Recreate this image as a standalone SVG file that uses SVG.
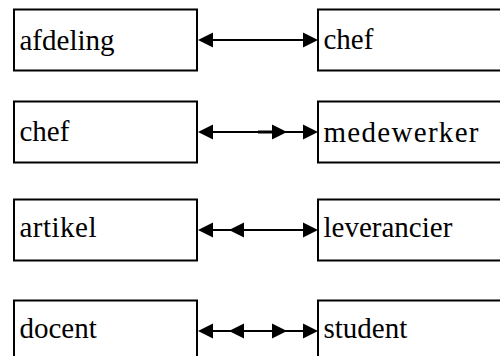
<svg xmlns="http://www.w3.org/2000/svg" xmlns:xlink="http://www.w3.org/1999/xlink" width="500" height="356" viewBox="0 0 500 356">
<style>
.box{fill:#fff;stroke:#000;stroke-width:2}
.lbl{font-family:'Liberation Serif',serif;font-size:29px;fill:#000}
.ln{stroke:#000;stroke-width:2;fill:none}
.ah{fill:#000}
</style>
<defs>
<polygon id="ar" class="ah" points="0,0 -15,-7.5 -15,7.5"/>
<polygon id="al" class="ah" points="0,0 15,-7.5 15,7.5"/>
</defs>
<rect width="500" height="356" fill="#fff"/>
<g id="n-afdeling"><rect class="box" x="14" y="9.5" width="183" height="61"/><text class="lbl" x="19.5" y="49.5">afdeling</text></g>
<g id="n-chef1"><rect class="box" x="318" y="9.5" width="186" height="61"/><text class="lbl" x="323.5" y="48.5">chef</text></g>
<g id="n-chef2"><rect class="box" x="14" y="101.5" width="183" height="61"/><text class="lbl" x="19.5" y="140.5">chef</text></g>
<g id="n-medewerker"><rect class="box" x="318" y="101.5" width="186" height="61"/><text class="lbl" x="323.5" y="141.5" textLength="155" lengthAdjust="spacing">medewerker</text></g>
<g id="n-artikel"><rect class="box" x="14" y="199.5" width="183" height="61"/><text class="lbl" x="19.5" y="236.5" textLength="77" lengthAdjust="spacing">artikel</text></g>
<g id="n-leverancier"><rect class="box" x="318" y="199.5" width="186" height="61"/><text class="lbl" x="323.5" y="236.5">leverancier</text></g>
<g id="n-docent"><rect class="box" x="14" y="300.5" width="183" height="61"/><text class="lbl" x="19.5" y="338">docent</text></g>
<g id="n-student"><rect class="box" x="318" y="300.5" width="186" height="61"/><text class="lbl" x="323.5" y="337.5">student</text></g>
<g id="connectors">
<line class="ln" x1="205" y1="40" x2="310" y2="40"/>
<use xlink:href="#al" x="198" y="40"/><use xlink:href="#ar" x="318" y="40"/>
<line class="ln" x1="205" y1="132" x2="310" y2="132"/>
<line stroke="#000" stroke-width="3" x1="258" y1="132" x2="274" y2="132"/>
<use xlink:href="#al" x="198" y="132"/><use xlink:href="#ar" x="287" y="132"/><use xlink:href="#ar" x="318" y="132"/>
<line class="ln" x1="205" y1="230" x2="310" y2="230"/>
<use xlink:href="#al" x="198" y="230"/><use xlink:href="#al" x="229" y="230"/><use xlink:href="#ar" x="318" y="230"/>
<line class="ln" x1="205" y1="331" x2="310" y2="331"/>
<use xlink:href="#al" x="198" y="331"/><use xlink:href="#al" x="229" y="331"/><use xlink:href="#ar" x="287" y="331"/><use xlink:href="#ar" x="318" y="331"/>
</g>
</svg>
